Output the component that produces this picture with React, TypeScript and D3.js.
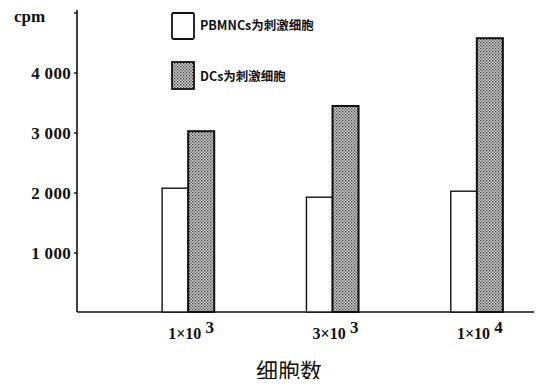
import React from "react";
import * as d3 from "d3";

const categories = ["1×10^3", "3×10^3", "1×10^4"];
const catBase = ["1×10", "3×10", "1×10"];
const catExp = ["3", "3", "4"];
const seriesNames = ["PBMNCs为刺激细胞", "DCs为刺激细胞"];
const pbmncs = [2080, 1930, 2030];
const dcs = [3030, 3450, 4580];
const yTicks = [1000, 2000, 3000, 4000];
const yTickLabels = ["1 000", "2 000", "3 000", "4 000"];

const W = 542;
const H = 387;

export default function App() {
  const y = d3.scaleLinear().domain([0, 5000]).range([313, 13]);
  const x0 = d3.scaleBand().domain(categories).range([116, 549]).paddingInner(0).paddingOuter(0);
  const x1 = d3
    .scaleBand()
    .domain(["a", "b"])
    .range([0, x0.bandwidth()])
    .paddingInner(0)
    .paddingOuter(1.77);
  const axisX = 77;
  const baseY = 312;
  const serif = "'Liberation Serif', 'DejaVu Serif', serif";
  const sans = "'Noto Sans CJK SC', 'DejaVu Sans', sans-serif";

  return (
    <div style={{ margin: -8 }}>
      <svg width={W} height={H} style={{ display: "block", background: "#fff" }}>
        <defs>
          <pattern id="dots" width="3" height="3" patternUnits="userSpaceOnUse">
            <rect width="3" height="3" fill="#cfcfcf" />
            <rect x="0" y="0" width="1.3" height="1.3" fill="#3a3a3a" />
            <rect x="1.5" y="1.5" width="1.3" height="1.3" fill="#4a4a4a" />
          </pattern>
        </defs>
        {/* axes */}
        <line x1={axisX} y1={10} x2={axisX} y2={baseY} stroke="#111" strokeWidth={1.6} />
        <line x1={axisX} y1={baseY} x2={W} y2={baseY} stroke="#111" strokeWidth={1.6} />
        {yTicks.map((t, i) => (
          <g key={t}>
            <line x1={axisX - 3} x2={axisX} y1={y(t)} y2={y(t)} stroke="#111" strokeWidth={1.4} />
            <text
              x={axisX - 6}
              y={y(t)}
              dy="0.35em"
              textAnchor="end"
              fontFamily={serif}
              fontWeight="bold"
              fontSize={17}
              letterSpacing={0.3}
              fill="#111"
            >
              {yTickLabels[i]}
            </text>
          </g>
        ))}
        <line x1={axisX - 3} x2={axisX} y1={y(5000)} y2={y(5000)} stroke="#111" strokeWidth={1.4} />
        <text x={14} y={22} fontFamily={serif} fontWeight="bold" fontSize={17} fill="#111">
          cpm
        </text>
        {/* bars */}
        {categories.map((c, i) => {
          const gx = x0(c)!;
          return (
            <g key={c}>
              <rect
                x={gx + x1("a")!}
                y={y(pbmncs[i])}
                width={x1.bandwidth()}
                height={baseY - y(pbmncs[i])}
                fill="#fff"
                stroke="#111"
                strokeWidth={1.4}
              />
              <rect
                x={gx + x1("b")!}
                y={y(dcs[i])}
                width={x1.bandwidth()}
                height={baseY - y(dcs[i])}
                fill="url(#dots)"
                stroke="#111"
                strokeWidth={2}
              />
              <text
                x={gx + x0.bandwidth() / 2 + 3}
                y={339}
                textAnchor="middle"
                fontFamily={serif}
                fontWeight="bold"
                fontSize={16}
                fill="#111"
              >
                {catBase[i]}
                <tspan dy={-6} fontSize={17}>
                  {" " + catExp[i]}
                </tspan>
              </text>
            </g>
          );
        })}
        {/* legend */}
        <rect x={172} y={13} width={22} height={26} fill="#fff" stroke="#111" strokeWidth={1.8} rx={1.5} />
        <text x={200} y={30} fontFamily={sans} fontWeight="bold" fontSize={12.5} fill="#111">
          {seriesNames[0]}
        </text>
        <rect x={172} y={62} width={22} height={27} fill="url(#dots)" stroke="#111" strokeWidth={1.8} />
        <text x={200} y={81} fontFamily={sans} fontWeight="bold" fontSize={12.5} fill="#111">
          {seriesNames[1]}
        </text>
        {/* x title */}
        <text x={289} y={379} textAnchor="middle" fontFamily={sans} fontSize={22} fill="#111">
          细胞数
        </text>
      </svg>
    </div>
  );
}
